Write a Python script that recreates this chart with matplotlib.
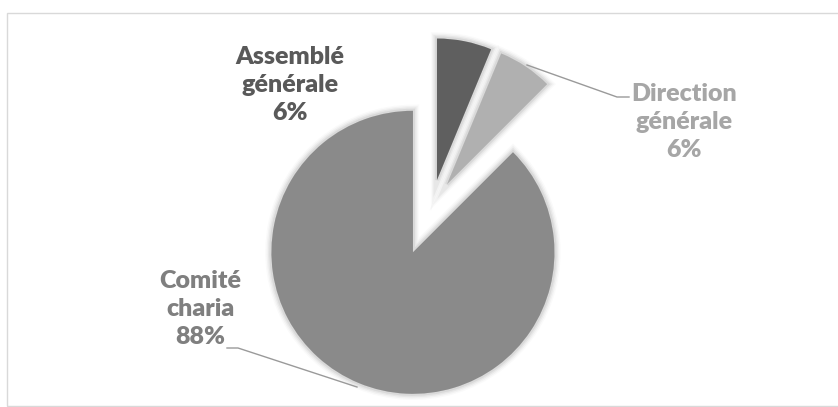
import matplotlib
matplotlib.use("Agg")
import matplotlib.pyplot as plt
import matplotlib.patheffects as pe
from matplotlib.patches import Rectangle

# Data
categories = ["Assemblé\ngénérale", "Direction\ngénérale", "Comité\ncharia"]
shares = [6.25, 6.25, 87.5]
colors = ["#5f5f5f", "#b0b0b0", "#8a8a8a"]
text_colors = ["#595959", "#a6a6a6", "#7f7f7f"]

W, H = 838, 407
fig = plt.figure(figsize=(W / 100, H / 100), dpi=100)
ax = fig.add_axes([0, 0, 1, 1])


def py(y):
    """Convert a top-down pixel row to the axes' y coordinate."""
    return H - y


center = (431.5, py(207.5))
radius = 141.5
explode = [28, 28, 48.5]

wedges, _ = ax.pie(
    shares,
    colors=colors,
    explode=explode,
    startangle=90,
    counterclock=False,
    radius=radius,
    center=center,
    wedgeprops=dict(linewidth=0),
)

# soft halo around every slice
glow = [pe.Stroke(linewidth=lw, foreground="#000000", alpha=a)
        for lw, a in [(9, 0.02), (7, 0.03), (5, 0.045), (3, 0.06)]]
for w in wedges:
    w.set_path_effects(glow + [pe.Normal()])

ax.set_xlim(0, W)
ax.set_ylim(0, H)
ax.set_aspect("equal")
ax.axis("off")

# chart frame
ax.add_patch(Rectangle((7, py(405.5)), 900, 393, fill=False,
                       edgecolor="#d9d9d9", linewidth=1.0, zorder=0))

label_pos = [(290, 85), (684, 122), (200, 309)]
for name, v, c, (x, y) in zip(categories, shares, text_colors, label_pos):
    ax.text(x, py(y), f"{name}\n{v:.0f}%", ha="center", va="center",
            color=c, fontsize=18, fontweight="heavy", family="Lato",
            linespacing=1.32)

# leader lines
lead_color = "#9a9a9a"
ax.plot([527, 617, 629], [py(65), py(97), py(97)], color=lead_color, lw=1.0)
ax.plot([227, 238, 357], [py(348), py(348), py(387)], color=lead_color, lw=1.0)

fig.savefig("out.png", dpi=100, facecolor="white")
